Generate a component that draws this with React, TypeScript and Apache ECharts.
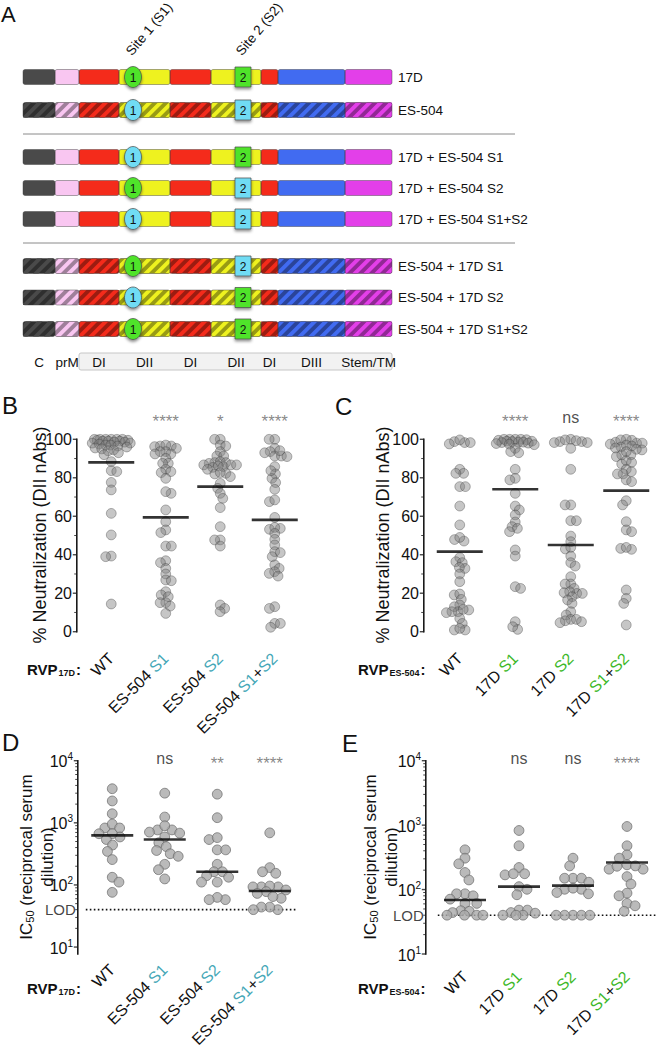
import React, { useEffect, useRef } from "react";
import * as echarts from "echarts";

const FONT = '"Liberation Sans", Arial, Helvetica, sans-serif';

// ---------------- Panel A : constructs ----------------
const constructNames = [
  "17D",
  "ES-504",
  "17D + ES-504 S1",
  "17D + ES-504 S2",
  "17D + ES-504 S1+S2",
  "ES-504 + 17D S1",
  "ES-504 + 17D S2",
  "ES-504 + 17D S1+S2",
];
const constructBackbone = ["17D", "ES-504", "17D", "17D", "17D", "ES-504", "ES-504", "ES-504"];
const site1Source = ["17D", "ES-504", "ES-504", "17D", "ES-504", "17D", "ES-504", "17D"];
const site2Source = ["17D", "ES-504", "17D", "ES-504", "ES-504", "ES-504", "17D", "17D"];
const domainNames = ["C", "prM", "DI", "DII", "DI", "DII", "DI", "DIII", "Stem/TM"];
const domainColors = ["#4a4a4a", "#f9c6f1", "#f42b1b", "#eef21f", "#f42b1b", "#eef21f", "#f42b1b", "#416bf1", "#e33fe9"];
const siteNames = ["Site 1 (S1)", "Site 2 (S2)"];

// ---------------- Panels B & C : % neutralization ----------------
const rvp17dLabels = ["WT", "ES-504 S1", "ES-504 S2", "ES-504 S1+S2"];
const rvpES504Labels = ["WT", "17D S1", "17D S2", "17D S1+S2"];

const neut17dWT = [100, 100, 100, 100, 100, 100, 99.5, 99.5, 99, 99, 99, 98.5, 98.5, 98, 98, 97.5, 97, 97, 96.5, 96, 95.5, 95, 94.5, 94, 93, 92, 88.4, 83.7, 83.2, 77.6, 73.7, 61.5, 50.3, 39.3, 39.0, 14.4];
const neut17dS1 = [96.5, 96.5, 97, 96.2, 95.3, 93.6, 92.4, 93.6, 92.4, 90.1, 87.5, 87.5, 84.4, 82.7, 83.2, 79.7, 71.9, 72.8, 63.3, 57.2, 52.9, 51.5, 44.5, 44.5, 36.9, 35.9, 32.9, 30, 26.9, 26.5, 20.8, 19.1, 18.2, 15.1, 15.1, 13.3, 9.5];
const neut17dS2 = [100, 100, 97, 96.5, 93.6, 91.3, 91.3, 87.9, 87.5, 88.4, 87.9, 85.4, 85.8, 86.7, 86.1, 86.7, 86.7, 82.3, 82, 82.7, 84.4, 80.6, 77.1, 74.5, 71.9, 69.3, 64.5, 54.6, 47.7, 47.7, 44.5, 13.9, 12.1, 10.4];
const neut17dS12 = [100, 100, 95.3, 93.6, 91.3, 91.3, 91, 94.1, 93, 85.8, 82, 79.7, 83.7, 77.5, 74, 67.6, 68.5, 59.4, 53.7, 53.2, 54.2, 51.1, 48, 45.1, 41.6, 41.1, 39, 34.7, 32.9, 31.2, 30.3, 28.9, 13, 12.1, 4.3, 4.3, 2.3];
const neut17dMeans = [88, 59.4, 75.4, 58.1];
const neut17dSig = ["", "****", "*", "****"];

const neutESWT = [98.8, 98.3, 97.6, 99.7, 98.3, 84.4, 82.3, 82.3, 75.4, 75.4, 65.3, 55.5, 47.9, 47.1, 49, 38.5, 36.4, 35.9, 32.9, 33.4, 30, 26, 19.1, 19.6, 16.8, 13.9, 11.3, 13, 10.4, 10.4, 11.6, 9.9, 6.9, 4.3, 0.9, 0.9, 1.7];
const neutESS1 = [100, 99.5, 100, 100, 99.8, 100, 98.5, 98.8, 99, 98.5, 99, 98.3, 97.8, 97.5, 98, 97.2, 95.3, 93.6, 93, 84.4, 79.7, 78.9, 71.9, 65.3, 63.3, 60.7, 57, 54.6, 53.7, 52, 42.5, 39.3, 23.4, 22.5, 5.2, 1.2, 2.6];
const neutESS2 = [98.8, 98.3, 98.8, 100, 95.3, 98.3, 99.7, 99.3, 84.4, 65.9, 65.9, 57.7, 57.7, 49.7, 46.8, 43, 43.8, 39.3, 35.9, 34.1, 28.6, 24.8, 24.8, 22.5, 19.9, 19.9, 20.8, 18.2, 20.3, 16.5, 14.7, 10.4, 8.7, 6.4, 5.7, 4.7, 6.4, 5.2];
const neutESS12 = [98.5, 98, 99.5, 100, 99.7, 98, 96.5, 97.5, 96, 97, 94.5, 94.8, 91.9, 91, 91.9, 93.6, 95.5, 87.2, 88.9, 88, 84.4, 83.2, 82, 82, 78.9, 78, 68.1, 65.9, 57.2, 52.9, 52, 43.3, 42.8, 43.8, 21.7, 17.3, 14.7, 3.5];
const neutESMeans = [41.6, 74, 45.1, 73.3];
const neutESSig = ["", "****", "ns", "****"];

const neutTicks = [0, 20, 40, 60, 80, 100];
const neutMinorTicks = [10, 30, 50, 70, 90];

// ---------------- Panels D & E : IC50 ----------------
const LOD = 40;
const ic17dWT = [3540, 2250, 1400, 826, 953, 826, 592, 667, 667, 538, 439, 346, 256, 133, 111, 76];
const ic17dS1 = [3000, 1239, 769, 769, 897, 682, 708, 592, 478, 414, 358, 318, 289, 215, 176, 125];
const ic17dS2 = [2890, 1210, 538, 578, 367, 367, 215, 163, 163, 141, 133, 111, 111, 58, 63, 58];
const ic17dS12 = [690, 190, 163, 154, 93, 93, 93, 96, 78, 73, 83, 61, 65, 40, 44, 44, 40];
const ic17dMeans = [628, 538, 163, 80];
const ic17dSig = ["", "ns", "**", "****"];

const icESWT = [414, 307, 251, 184, 141, 86, 80, 86, 71, 61, 61, 47, 46, 44, 40, 40, 40, 40];
const icESS1 = [826, 478, 220, 169, 176, 176, 111, 83, 101, 48, 48, 44, 43, 40, 40, 40];
const icESS2 = [307, 233, 150, 150, 130, 150, 101, 101, 86, 90, 105, 40, 40, 40, 40, 40];
const icESS12 = [953, 478, 346, 307, 242, 207, 233, 207, 230, 159, 122, 88, 80, 61, 56, 46];
const icESMeans = [69, 111, 115, 263];
const icESSig = ["", "ns", "ns", "****"];

const icTicks = [10, 100, 1000, 10000];
const icMinorTicks = [20, 30, 40, 50, 60, 70, 80, 90, 200, 300, 400, 500, 600, 700, 800, 900, 2000, 3000, 4000, 5000, 6000, 7000, 8000, 9000];

// ---------------- helpers ----------------
const TEAL = "#45a7b7";
const GREEN = "#3db828";
const SITE_GREEN = "#4fe32c";
const SITE_CYAN = "#70dcf4";
const AXIS = "#1a1a1a";

function darken(hex: string, f: number) {
  const n = parseInt(hex.slice(1), 16);
  const r = Math.round(((n >> 16) & 255) * f);
  const g = Math.round(((n >> 8) & 255) * f);
  const b = Math.round((n & 255) * f);
  return `rgb(${r},${g},${b})`;
}

function clipX(poly: number[][], x0: number, x1: number) {
  const clip = (pts: number[][], inside: (p: number[]) => boolean, xc: number) => {
    const out: number[][] = [];
    for (let i = 0; i < pts.length; i++) {
      const a = pts[i];
      const b = pts[(i + 1) % pts.length];
      const ia = inside(a);
      const ib = inside(b);
      if (ia) out.push(a);
      if (ia !== ib) {
        const t = (xc - a[0]) / (b[0] - a[0]);
        out.push([xc, a[1] + t * (b[1] - a[1])]);
      }
    }
    return out;
  };
  let p = clip(poly, (q) => q[0] >= x0, x0);
  if (p.length) p = clip(p, (q) => q[0] <= x1, x1);
  return p;
}

// bounded beeswarm: pixel offsets from the symbols' pixel distance
function swarm(values: number[], toPx: (v: number) => number, d: number, maxW: number) {
  const order = values.map((_, i) => i).sort((a, b) => values[b] - values[a]);
  const placed: { x: number; y: number }[] = [];
  const offs: number[] = new Array(values.length).fill(0);
  let lastSign = 1;
  const minDist = (c: number, y: number) => {
    let m = Infinity;
    for (const p of placed) m = Math.min(m, Math.hypot(p.x - c, p.y - y));
    return m;
  };
  for (const i of order) {
    const y = toPx(values[i]);
    const cands = [0];
    for (const p of placed) {
      const dy = Math.abs(p.y - y);
      if (dy < d) {
        const dx = Math.sqrt(d * d - dy * dy);
        cands.push(p.x + dx + 0.01, p.x - dx - 0.01);
      }
    }
    let best = Infinity;
    let bx: number | null = null;
    for (const c of cands) {
      if (Math.abs(c) > maxW) continue;
      if (minDist(c, y) < d - 0.05) continue;
      const sign = c > 0 ? 1 : c < 0 ? -1 : 0;
      const score = Math.abs(c) + (sign === lastSign ? 0.02 : 0);
      if (score < best) {
        best = score;
        bx = c;
      }
    }
    if (bx === null) {
      let bestD = -1;
      bx = 0;
      for (let c = -maxW; c <= maxW + 0.001; c += 0.5) {
        const md = minDist(c, y) - Math.abs(c) * 0.01;
        if (md > bestD) {
          bestD = md;
          bx = c;
        }
      }
    }
    if (bx !== 0) lastSign = bx > 0 ? 1 : -1;
    placed.push({ x: bx, y });
    offs[i] = bx;
  }
  return offs;
}

const grids = [
  { left: 84, top: 439.3, width: 218, height: 192.4 },
  { left: 432, top: 439.3, width: 222, height: 192.4 },
  { left: 86, top: 760.7, width: 210, height: 193.3 },
  { left: 438, top: 760.7, width: 216, height: 193.3 },
];
const yOffsets = [7, 8, 8, 12];

function txt(text: string, x: number, y: number, size: number, align = "left", valign = "middle", extra: any = {}) {
  return {
    type: "text",
    z: 50,
    x,
    y,
    ...extra,
    style: { text, fontSize: size, fontFamily: FONT, fill: "#111", align, verticalAlign: valign, textAlign: align, textVerticalAlign: valign, ...(extra.style || {}) },
  };
}

function buildOption() {
  const graphic: any[] = [];

  // ---------- Panel A ----------
  const edges = [23, 55, 79, 119, 170, 211, 261, 278, 345, 392];
  const rowY = [77, 110, 157, 188, 219, 266, 297.5, 329];
  const barH = 15;
  const period = 11;
  const sw = 5.5;
  const s1x = 133;
  const s2x = 243;

  graphic.push(txt("A", 1, 3, 22, "left", "top"));

  siteNames.forEach((t, i) => {
    graphic.push(txt(t, (i === 0 ? s1x : s2x) + 1, 58, 13.5, "left", "bottom", { rotation: (50 * Math.PI) / 180 }));
  });

  rowY.forEach((cy, r) => {
    const yt = cy - barH / 2;
    const yb = cy + barH / 2;
    const hatched = constructBackbone[r] === "ES-504";
    for (let s = 0; s < 9; s++) {
      const x0 = edges[s];
      const x1 = edges[s + 1];
      const col = domainColors[s];
      graphic.push({ type: "rect", z: 10, shape: { x: x0, y: yt, width: x1 - x0, height: barH, r: 2 }, style: { fill: hatched ? darken(col, 0.64) : col } });
      if (hatched) {
        const kStart = Math.floor((x0 - barH - sw) / period) - 1;
        const kEnd = Math.ceil(x1 / period) + 1;
        for (let k = kStart; k <= kEnd; k++) {
          const c = k * period;
          const poly = [[c, yb], [c + sw, yb], [c + sw + barH, yt], [c + barH, yt]];
          const pts = clipX(poly, x0, x1);
          if (pts.length >= 3) graphic.push({ type: "polygon", z: 11, shape: { points: pts }, style: { fill: col } });
        }
      }
      graphic.push({ type: "rect", z: 12, shape: { x: x0, y: yt, width: x1 - x0, height: barH, r: 2 }, style: { fill: "none", stroke: "rgba(60,60,60,0.55)", lineWidth: 0.8 } });
    }
    const c1 = site1Source[r] === "17D" ? SITE_GREEN : SITE_CYAN;
    const c2 = site2Source[r] === "17D" ? SITE_GREEN : SITE_CYAN;
    graphic.push({ type: "ellipse", z: 20, shape: { cx: s1x, cy, rx: 8.5, ry: 10.5 }, style: { fill: c1, stroke: "#4a4a4a", lineWidth: 0.7, shadowBlur: 3, shadowOffsetY: 2, shadowColor: "rgba(0,0,0,0.45)" } });
    graphic.push(txt("1", s1x, cy + 0.5, 12, "center", "middle"));
    graphic.push({ type: "rect", z: 20, shape: { x: s2x - 8, y: cy - 10, width: 16, height: 20 }, style: { fill: c2, stroke: "#4a4a4a", lineWidth: 0.7, shadowBlur: 3, shadowOffsetY: 2, shadowColor: "rgba(0,0,0,0.45)" } });
    graphic.push(txt("2", s2x, cy + 0.5, 12, "center", "middle"));
    graphic.push(txt(constructNames[r], 398, cy, 13.5, "left", "middle"));
  });

  [134, 243].forEach((y) => graphic.push({ type: "line", z: 5, shape: { x1: 23, y1: y, x2: 515, y2: y }, style: { stroke: "#8a8a8a", lineWidth: 1 } }));

  graphic.push({ type: "rect", z: 5, shape: { x: edges[2], y: 353, width: edges[9] - edges[2], height: 17, r: 2 }, style: { fill: "#f2f2f2", stroke: "#c6c6c6", lineWidth: 1 } });
  domainNames.forEach((n, s) => {
    graphic.push(txt(n, (edges[s] + edges[s + 1]) / 2, 362, 13.5, "center", "middle"));
  });

  // ---------- y-axis lines (at the offset axis position, pixel-aligned) ----------
  grids.forEach((g, k) => {
    const x = Math.round(g.left - yOffsets[k]);
    graphic.push({ type: "rect", z: 100, shape: { x: x - 1, y: g.top - 0.7, width: 1.6, height: g.height + 1.4 }, style: { fill: AXIS } });
  });

  // ---------- panel letters & axis titles ----------
  const letters: [string, number, number][] = [
    ["B", 2, 405],
    ["C", 335, 406],
    ["D", 2, 742],
    ["E", 342, 743],
  ];
  letters.forEach(([t, x, y]) => graphic.push(txt(t, x, y, 24, "left", "middle")));

  [40, 383].forEach((x) => graphic.push(txt("% Neutralization (DII nAbs)", x, 535, 18, "center", "middle", { rotation: Math.PI / 2 })));
  [35, 379].forEach((x) =>
    graphic.push({
      type: "text",
      z: 50,
      x,
      y: 857,
      rotation: Math.PI / 2,
      style: {
        text: "{n|IC}{s|50}{n| (reciprocal serum}\n{n|dilution)}",
        fontFamily: FONT,
        fill: "#111",
        align: "center",
        verticalAlign: "middle",
        textAlign: "center",
        textVerticalAlign: "middle",
        rich: {
          n: { fontSize: 17, fontFamily: FONT, fill: "#111", lineHeight: 21, verticalAlign: "bottom" },
          s: { fontSize: 11, fontFamily: FONT, fill: "#111", lineHeight: 21, verticalAlign: "bottom" },
        },
      },
    })
  );

  const rvp: [number, number, string][] = [
    [27, 668, "17D"],
    [27, 987, "17D"],
    [358, 668, "ES-504"],
    [358, 987, "ES-504"],
  ];
  rvp.forEach(([x, y, sub]) =>
    graphic.push({
      type: "text",
      z: 50,
      x,
      y,
      style: {
        text: `{b|RVP}{s|${sub}}{b|:}`,
        align: "left",
        verticalAlign: "middle",
        textAlign: "left",
        textVerticalAlign: "middle",
        rich: {
          b: { fontSize: 15, fontWeight: "bold", fontFamily: FONT, fill: "#111", lineHeight: 18, verticalAlign: "bottom" },
          s: { fontSize: 9, fontWeight: "bold", fontFamily: FONT, fill: "#111", lineHeight: 14, verticalAlign: "bottom", padding: [0, 1, 0, 1] },
        },
      },
    })
  );

  // ---------- grids / axes / series ----------
  const panels = [
    { groups: [neut17dWT, neut17dS1, neut17dS2, neut17dS12], means: neut17dMeans, sig: neut17dSig, labels: rvp17dLabels, hl: TEAL, log: false },
    { groups: [neutESWT, neutESS1, neutESS2, neutESS12], means: neutESMeans, sig: neutESSig, labels: rvpES504Labels, hl: GREEN, log: false },
    { groups: [ic17dWT, ic17dS1, ic17dS2, ic17dS12], means: ic17dMeans, sig: ic17dSig, labels: rvp17dLabels, hl: TEAL, log: true },
    { groups: [icESWT, icESS1, icESS2, icESS12], means: icESMeans, sig: icESSig, labels: rvpES504Labels, hl: GREEN, log: true },
  ];

  const xAxis: any[] = [];
  const yAxis: any[] = [];
  const series: any[] = [];

  panels.forEach((p, k) => {
    const g = grids[k];
    const ppu = g.width / 4;
    const off = yOffsets[k];
    const axisX = -0.5 - (g.left - Math.round(g.left - off) + 0.2) / ppu;
    xAxis.push({
      gridIndex: k,
      type: "category",
      data: p.labels,
      position: "bottom",
      axisLine: { show: false, onZero: false },
      axisTick: { show: false },
      axisLabel: {
        interval: 0,
        rotate: 45,
        margin: p.log ? 20 : 24,
        fontSize: 16,
        fontFamily: FONT,
        color: "#111",
        formatter: (v: string) => v.replace(/(S1|S2)/g, "{h|$1}"),
        rich: { h: { color: p.hl, fontSize: 16, fontFamily: FONT } },
      },
    });
    xAxis.push({ gridIndex: k, type: "value", min: -0.5, max: 3.5, show: false, position: "top", axisLine: { onZero: false } });

    const axisCommon = {
      gridIndex: k,
      position: "left",
      offset: off,
      axisLine: { show: false, onZero: false },
      axisTick: { show: false },
      minorTick: { show: false },
      splitLine: { show: false },
      minorSplitLine: { show: false },
    };
    if (!p.log) {
      yAxis.push({
        ...axisCommon,
        type: "value",
        min: neutTicks[0],
        max: neutTicks[neutTicks.length - 1],
        interval: neutTicks[1] - neutTicks[0],
        axisLabel: { fontSize: 16, fontFamily: FONT, color: "#111", margin: 5, showMinLabel: true, showMaxLabel: true },
      });
    } else {
      yAxis.push({
        ...axisCommon,
        type: "log",
        logBase: 10,
        min: icTicks[0],
        max: icTicks[icTicks.length - 1],
        axisLabel: {
          fontSize: 16,
          fontFamily: FONT,
          color: "#111",
          margin: 5,
          showMinLabel: true,
          showMaxLabel: true,
          formatter: (v: number) => `{n|10}{s|${Math.round(Math.log10(v))}}`,
          rich: {
            n: { fontSize: 16, fontFamily: FONT, color: "#111", lineHeight: 18, verticalAlign: "bottom" },
            s: { fontSize: 10, fontFamily: FONT, color: "#111", lineHeight: 18, verticalAlign: "top" },
          },
        },
      });
    }

    // y-axis ticks, positioned through the axis scale
    const major = p.log ? icTicks : neutTicks;
    const minor = p.log ? icMinorTicks : neutMinorTicks;
    const yMax = major[major.length - 1];
    series.push({
      type: "scatter",
      xAxisIndex: 2 * k + 1,
      yAxisIndex: k,
      symbol: "rect",
      symbolSize: [4, 1.4],
      symbolOffset: [-2, 0],
      silent: true,
      clip: false,
      z: 4,
      itemStyle: { color: AXIS },
      data: major.map((v) => [axisX, v]),
    });
    series.push({
      type: "scatter",
      xAxisIndex: 2 * k + 1,
      yAxisIndex: k,
      symbol: "rect",
      symbolSize: [2.6, 1],
      symbolOffset: [-1.3, 0],
      silent: true,
      clip: false,
      z: 4,
      itemStyle: { color: AXIS },
      data: minor.map((v) => [axisX, v]),
    });

    const toPx = p.log
      ? (v: number) => ((Math.log10(v) - 1) / 3) * g.height
      : (v: number) => (v / 100) * g.height;
    const dmin = p.log ? 8.4 : 5.6;
    const maxW = p.log ? 18 : 19;
    const pts: number[][] = [];
    p.groups.forEach((vals, gi) => {
      const offs = swarm(vals, toPx, dmin, maxW);
      vals.forEach((v, i) => pts.push([gi + offs[i] / ppu, v]));
    });
    series.push({
      type: "scatter",
      xAxisIndex: 2 * k + 1,
      yAxisIndex: k,
      symbol: "circle",
      symbolSize: 9.8,
      z: 3,
      clip: false,
      silent: true,
      itemStyle: p.log
        ? { color: "#a9a9a9", borderColor: "#696969", borderWidth: 0.9 }
        : { color: "rgba(125,125,125,0.55)", borderColor: "rgba(60,60,60,0.6)", borderWidth: 0.8 },
      data: pts,
    });

    series.push({
      type: "scatter",
      xAxisIndex: 2 * k + 1,
      yAxisIndex: k,
      symbol: "rect",
      symbolSize: [p.log ? 42 : 46, 2.6],
      z: 5,
      clip: false,
      silent: true,
      itemStyle: { color: "#000" },
      data: p.means.map((m, i) => [i, m]),
    });

    if (p.log) {
      const rightX = k === 3 ? 3.5 + 6 / ppu : 3.5;
      series.push({
        type: "line",
        xAxisIndex: 2 * k + 1,
        yAxisIndex: k,
        showSymbol: false,
        symbol: "none",
        silent: true,
        clip: false,
        z: 2,
        lineStyle: { type: [1.6, 2.4], color: "#111", width: 1.6 },
        data: [
          [axisX, LOD],
          [rightX, LOD],
        ],
      });
      series.push({
        type: "scatter",
        xAxisIndex: 2 * k + 1,
        yAxisIndex: k,
        symbolSize: 0,
        silent: true,
        clip: false,
        z: 6,
        data: [
          {
            value: [axisX, LOD],
            label: { show: true, position: "left", distance: 2, formatter: "LOD", fontSize: 15, fontFamily: FONT, color: "#111" },
          },
        ],
      });
    }

    // significance labels
    const top = yMax;
    series.push({
      type: "scatter",
      xAxisIndex: 2 * k + 1,
      yAxisIndex: k,
      symbolSize: 0,
      clip: false,
      silent: true,
      z: 6,
      data: p.sig
        .map((s, i) => ({ s, i }))
        .filter((o) => o.s)
        .map((o) => {
          const star = o.s.indexOf("*") >= 0;
          const dy = p.log ? (star ? 3 : -2) : star ? -18 : -22;
          return {
            value: [o.i, top],
            label: {
              show: true,
              position: "inside",
              offset: [0, dy],
              formatter: o.s,
              fontSize: star ? 17 : 16,
              fontFamily: FONT,
              color: star ? "#6a6a6a" : "#222",
            },
          };
        }),
    });
  });

  return {
    animation: false,
    textStyle: { fontFamily: FONT },
    grid: grids.map((g) => ({ ...g })),
    xAxis,
    yAxis,
    series,
    graphic,
  };
}

export default function App() {
  const ref = useRef<HTMLDivElement>(null);
  useEffect(() => {
    document.body.style.margin = "0";
    const chart = echarts.init(ref.current!, undefined, { renderer: "svg" });
    chart.setOption(buildOption() as any);
    return () => chart.dispose();
  }, []);
  return <div ref={ref} style={{ position: "absolute", left: 0, top: 0, width: 661, height: 1050, background: "#fff" }} />;
}
